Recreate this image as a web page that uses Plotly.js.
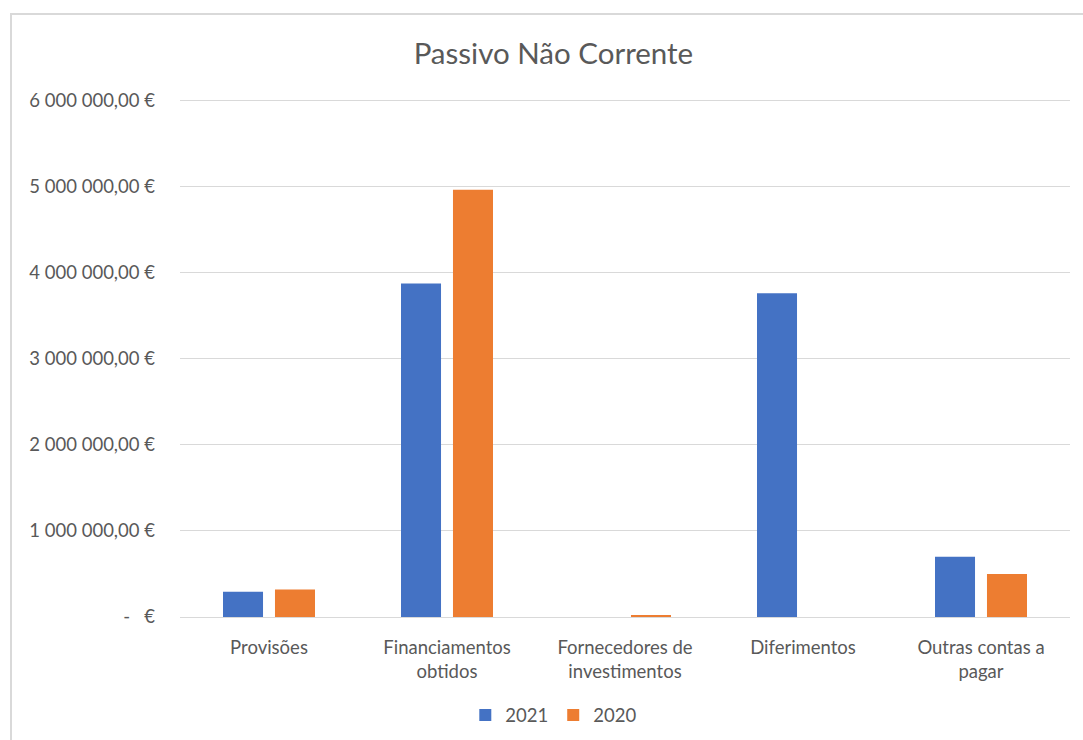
<!DOCTYPE html>
<html>
<head>
<meta charset="utf-8">
<script src="https://cdn.plot.ly/plotly-3.0.1.min.js"></script>
<style>
  html, body { margin: 0; padding: 0; background: #fff; }
  #wrap { position: relative; width: 1083px; height: 740px; overflow: hidden; }
  #chart { width: 1083px; height: 740px; }
  #frame { position: absolute; left: 10px; top: 13px; width: 1090px; height: 760px;
           border: 2px solid #d9d9d9; box-sizing: border-box; pointer-events: none; }
</style>
</head>
<body>
<div id="wrap">
  <div id="chart"></div>
  <div id="frame"></div>
</div>
<script>
const categories = ["Provisões", "Financiamentos<br>obtidos", "Fornecedores de<br>investimentos", "Diferimentos", "Outras contas a<br>pagar"];
const values2021 = [294000, 3870000, 0, 3757000, 700000];
const values2020 = [320000, 4960000, 20000, 0, 500000];
const tickValues = [0, 1000000, 2000000, 3000000, 4000000, 5000000, 6000000];
const tickLabels = ["-   €", "1 000 000,00 €", "2 000 000,00 €", "3 000 000,00 €", "4 000 000,00 €", "5 000 000,00 €", "6 000 000,00 €"];

const fontFamily = "Lato, 'Open Sans', sans-serif";
const textColor = "#595959";

const traces = [
  { type: "bar", name: "2021", x: categories, y: values2021, marker: { color: "#4472C4" }, hoverinfo: "y+name" },
  { type: "bar", name: "2020", x: categories, y: values2020, marker: { color: "#ED7D31" }, hoverinfo: "y+name" }
];

const layout = {
  width: 1083, height: 740,
  margin: { l: 180, r: 13, t: 99, b: 123, autoexpand: false },
  paper_bgcolor: "#ffffff", plot_bgcolor: "#ffffff",
  font: { family: fontFamily, color: textColor, size: 18.5 },
  title: { text: "Passivo Não Corrente", font: { family: fontFamily, size: 29.5, color: textColor },
           x: 0.511, xanchor: "center", y: 0.928, yanchor: "middle" },
  barmode: "group", bargap: 0.416, bargroupgap: 0.23,
  xaxis: { type: "category", showgrid: false, showline: true, linecolor: "#d9d9d9", linewidth: 1,
           ticks: "", ticklabelstandoff: 14, tickfont: { family: fontFamily, size: 18.5, color: textColor },
           fixedrange: true },
  yaxis: { range: [0, 6012000], tickmode: "array", tickvals: tickValues, ticktext: tickLabels,
           showgrid: true, gridcolor: "#d9d9d9", gridwidth: 1, zeroline: false, showline: false,
           ticks: "", ticklabelstandoff: 24, tickfont: { family: fontFamily, size: 18.5, color: textColor },
           fixedrange: true },
  showlegend: true,
  legend: { orientation: "h", x: 0.42, xanchor: "center", y: -0.19, yanchor: "middle",
            font: { family: fontFamily, size: 18.5, color: textColor }, itemwidth: 30, traceorder: "normal" }
};

Plotly.newPlot("chart", traces, layout, { displayModeBar: false, staticPlot: false });
</script>
</body>
</html>
